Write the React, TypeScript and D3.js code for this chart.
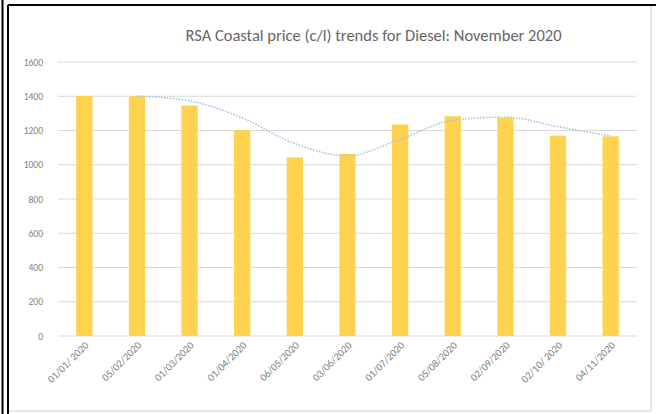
import React from "react";
import * as d3 from "d3";

const categories = [
  "01/01/ 2020",
  "05/02/2020",
  "01/03/2020",
  "01/04/2020",
  "06/05/2020",
  "03/06/2020",
  "01/07/2020",
  "05/08/2020",
  "02/09/2020",
  "02/10/ 2020",
  "04/11/2020",
];
const prices = [1402, 1400, 1346, 1202, 1043, 1063, 1235, 1283, 1274, 1170, 1166];
const yTicks = [0, 200, 400, 600, 800, 1000, 1200, 1400, 1600];
const title = "RSA Coastal price (c/l) trends for Diesel: November 2020";

// 2-period moving average trendline (as in the source chart)
const trend = prices
  .map((v, i) => (i === 0 ? null : { i, v: (v + prices[i - 1]) / 2 }))
  .filter((d) => d !== null) as { i: number; v: number }[];

const W = 656;
const H = 414;
const left = 58;
const right = 637;
const top = 62;
const bottom = 336;

export default function App() {
  const x = d3
    .scaleBand<string>()
    .domain(categories)
    .range([left, right])
    .paddingInner(0.69)
    .paddingOuter(0.345);
  const y = d3.scaleLinear().domain([0, 1600]).range([bottom, top]);
  const cx = (i: number) => (x(categories[i]) as number) + x.bandwidth() / 2;
  const line = d3
    .line<{ i: number; v: number }>()
    .x((d) => cx(d.i))
    .y((d) => y(d.v))
    .curve(d3.curveMonotoneX);
  const font = "Calibri, Carlito, 'Open Sans', sans-serif";
  return (
    <svg
      width={W}
      height={H}
      style={{ position: "absolute", left: 0, top: 0, background: "#fff" }}
      fontFamily={font}
    >
      <rect x={0} y={0} width={W} height={H} fill="#fff" />
      <line x1={2.5} x2={2.5} y1={0} y2={H} stroke="#000" strokeWidth={2} />
      <rect x={8} y={5} width={643} height={406} fill="none" stroke="#d9d9d9" strokeWidth={1.2} />
      <line x1={8} x2={W} y1={5} y2={5} stroke="#000" strokeWidth={2} />
      <line x1={8} x2={8} y1={5} y2={H} stroke="#000" strokeWidth={2} />
      <text
        x={(left + right) / 2 + 26}
        y={41}
        textAnchor="middle"
        fontSize={16.5}
        fill="#666666"
      >
        {title}
      </text>
      {yTicks.map((t) => (
        <g key={t}>
          <line x1={left} x2={right} y1={y(t)} y2={y(t)} stroke="#d9d9d9" strokeWidth={1} />
          <text x={43} y={y(t) + 3.5} textAnchor="end" fontSize={9.5} fill="#7f7f7f">
            {t}
          </text>
        </g>
      ))}
      {prices.map((v, i) => (
        <rect
          key={i}
          x={x(categories[i])}
          y={y(v)}
          width={x.bandwidth()}
          height={y(0) - y(v)}
          fill="#FFD24F"
        />
      ))}
      <path
        d={line(trend) || ""}
        fill="none"
        stroke="#9dc3e6"
        strokeWidth={1.6}
        strokeDasharray="1.5 1.5"
      />
      {categories.map((c, i) => (
        <text
          key={c}
          transform={`translate(${cx(i) + 5},${bottom + 10}) rotate(-45)`}
          textAnchor="end"
          fontSize={10.5}
          fill="#7f7f7f"
        >
          {c}
        </text>
      ))}
    </svg>
  );
}
